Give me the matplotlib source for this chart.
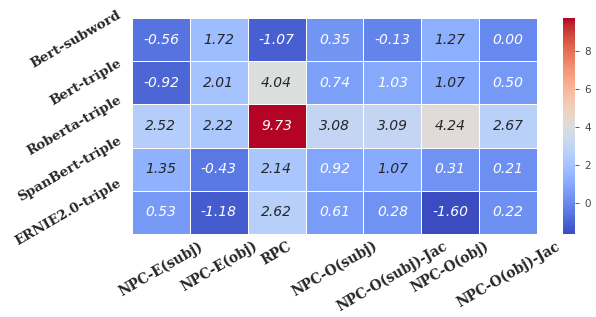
import numpy as np
import matplotlib
matplotlib.use("Agg")
import matplotlib.pyplot as plt
import seaborn as sns

models = ["Bert-subword", "Bert-triple", "Roberta-triple", "SpanBert-triple", "ERNIE2.0-triple"]
metrics = ["NPC-E(subj)", "NPC-E(obj)", "RPC", "NPC-O(subj)", "NPC-O(subj)-Jac", "NPC-O(obj)", "NPC-O(obj)-Jac"]

bert_subword = [-0.56, 1.72, -1.07, 0.35, -0.13, 1.27, 0.00]
bert_triple = [-0.92, 2.01, 4.04, 0.74, 1.03, 1.07, 0.50]
roberta_triple = [2.52, 2.22, 9.73, 3.08, 3.09, 4.24, 2.67]
spanbert_triple = [1.35, -0.43, 2.14, 0.92, 1.07, 0.31, 0.21]
ernie_triple = [0.53, -1.18, 2.62, 0.61, 0.28, -1.60, 0.22]

values = np.array([bert_subword, bert_triple, roberta_triple, spanbert_triple, ernie_triple])

W, H = 596, 317
fig = plt.figure(figsize=(W / 100, H / 100), dpi=100)
ax = fig.add_axes([132 / W, 1 - 234 / H, (537 - 132) / W, (234 - 18) / H])
cax = fig.add_axes([563 / W, 1 - 234 / H, 12 / W, (234 - 18) / H])

sns.heatmap(values, ax=ax, cbar_ax=cax, cmap="coolwarm", annot=True, fmt=".2f",
            linewidths=0.7, linecolor="white",
            annot_kws={"style": "italic", "size": 10},
            xticklabels=metrics, yticklabels=models)

ax.tick_params(length=0)
ax.tick_params(axis="y", pad=6)
ax.set_xticklabels(metrics, rotation=30, ha="center", fontfamily="DejaVu Serif",
                   fontweight="bold", fontsize=9.8, color="#262626")
ax.set_yticklabels(models, rotation=30, ha="right", va="center", fontfamily="DejaVu Serif",
                   fontweight="bold", fontsize=9.6, color="#262626")

cax.tick_params(labelsize=7.5, length=3, width=0.6, colors="#444444")

fig.savefig("out.png", dpi=100)
